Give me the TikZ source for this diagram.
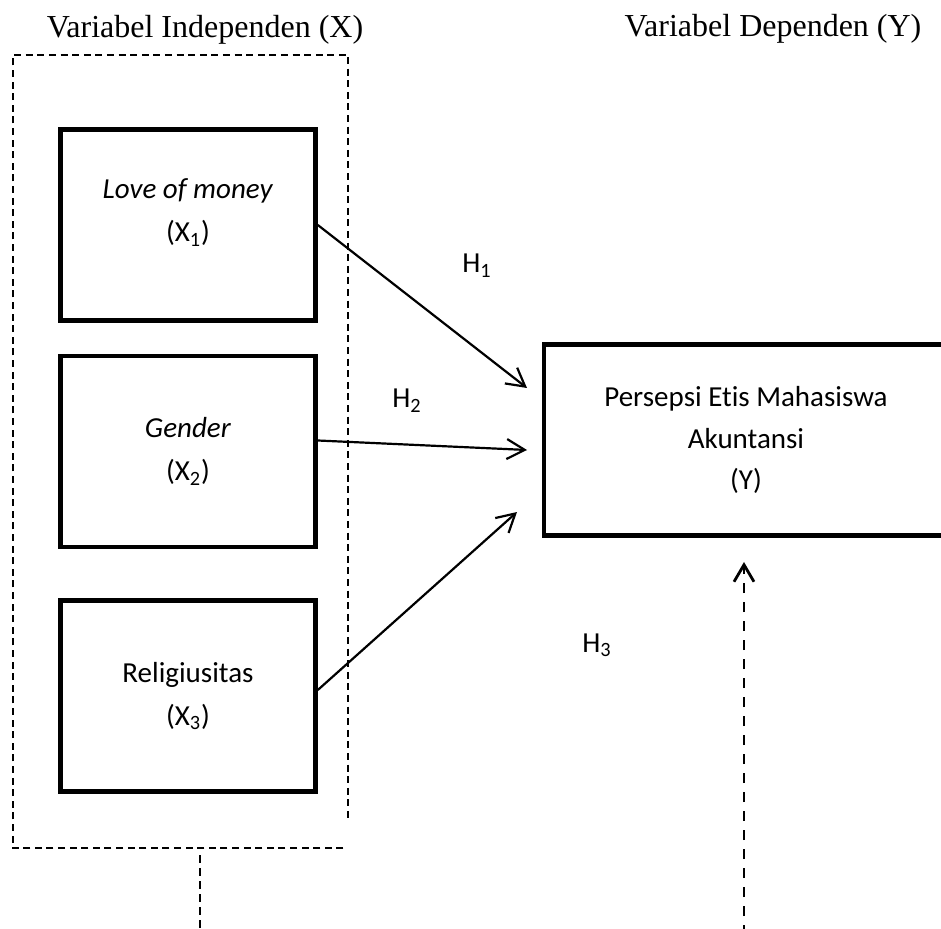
\documentclass[tikz,border=0pt]{standalone}
\usepackage{fontspec}
\setmainfont{Liberation Serif}
\newfontfamily\calibri[Ligatures=NoCommon]{Carlito}
\usetikzlibrary{arrows.meta}

\begin{document}
\begin{tikzpicture}[x=0.5pt, y=-0.5pt]
    % Define styles
    \tikzstyle{varbox}=[rectangle, draw=black, line width=2.3pt, minimum width=127.5pt, minimum height=95.5pt, align=center, font=\calibri\fontsize{14.5}{21.5}\selectfont]
    \tikzstyle{headtext}=[anchor=base, inner sep=0pt, font=\fontsize{16}{19}\selectfont]
    \tikzstyle{hyplabel}=[anchor=base west, inner sep=0pt, font=\calibri\fontsize{14.5}{17}\selectfont]
    \tikzstyle{arrow}=[-{Straight Barb[length=9pt, width=10pt]}, line width=1.1pt]
    \tikzstyle{groupline}=[line width=1pt, dash pattern=on 3.5pt off 2.3pt]
    \tikzstyle{dashline}=[line width=1.1pt, dash pattern=on 4pt off 2.5pt]
    \tikzstyle{dasharrow}=[-{Straight Barb[length=8.5pt, width=10pt]}, line width=1.4pt, dash pattern=on 5pt off 4.5pt]

    \clip (0,0) rectangle (941,929);

    % Headings
    \node[headtext] (headx) at (205,38) {Variabel Independen (X)};
    \node[headtext] (heady) at (773,37) {Variabel Dependen (Y)};

    % Independent variables
    \node[varbox, text depth=14.5pt] (lom) at (188,225) {\textit{Love of money}\\(X\textsubscript{1})};
    \node[varbox] (gender) at (188,451.5) {\textit{Gender}\\(X\textsubscript{2})};
    \node[varbox] (relig) at (188,696) {Religiusitas\\(X\textsubscript{3})};

    % Dependent variable
    \node[varbox, minimum width=202pt, font=\calibri\fontsize{14.5}{20.75}\selectfont] (persepsi) at (746,440) {Persepsi Etis Mahasiswa\\Akuntansi\\(Y)};

    % Group of X
    \node[minimum width=167.35pt, minimum height=396.35pt, inner sep=0pt] (groupx) at (180.7,451.7) {};
    \draw[groupline] ([xshift=-2.5pt]groupx.south east) -- (groupx.south west) -- (groupx.north west) -- (groupx.north east) -- ([yshift=15pt]groupx.south east);

    % Free ends
    \coordinate (h1end) at (527,388);
    \coordinate (h2end) at (527,450);
    \coordinate (h3end) at (517,512);
    \coordinate (xdown) at (200,855);
    \coordinate (xbottom) at (200,935);
    \coordinate (ytip) at (744,562);
    \coordinate (ybottom) at (744,935);

    % Hypotheses
    \node[hyplabel] (h1) at (462,273) {H\textsubscript{1}};
    \node[hyplabel] (h2) at (392,408) {H\textsubscript{2}};
    \node[hyplabel] (h3) at (582,652) {H\textsubscript{3}};

    % Connections
    \draw[arrow] (lom.east) -- (h1end);
    \draw[arrow] ([yshift=5.5pt]gender.east) -- (h2end);
    \draw[arrow] ([yshift=3pt]relig.east) -- (h3end);
    \draw[dashline] (xdown) -- (xbottom);
    \draw[dasharrow] (ybottom) -- (ytip);
\end{tikzpicture}
\end{document}
